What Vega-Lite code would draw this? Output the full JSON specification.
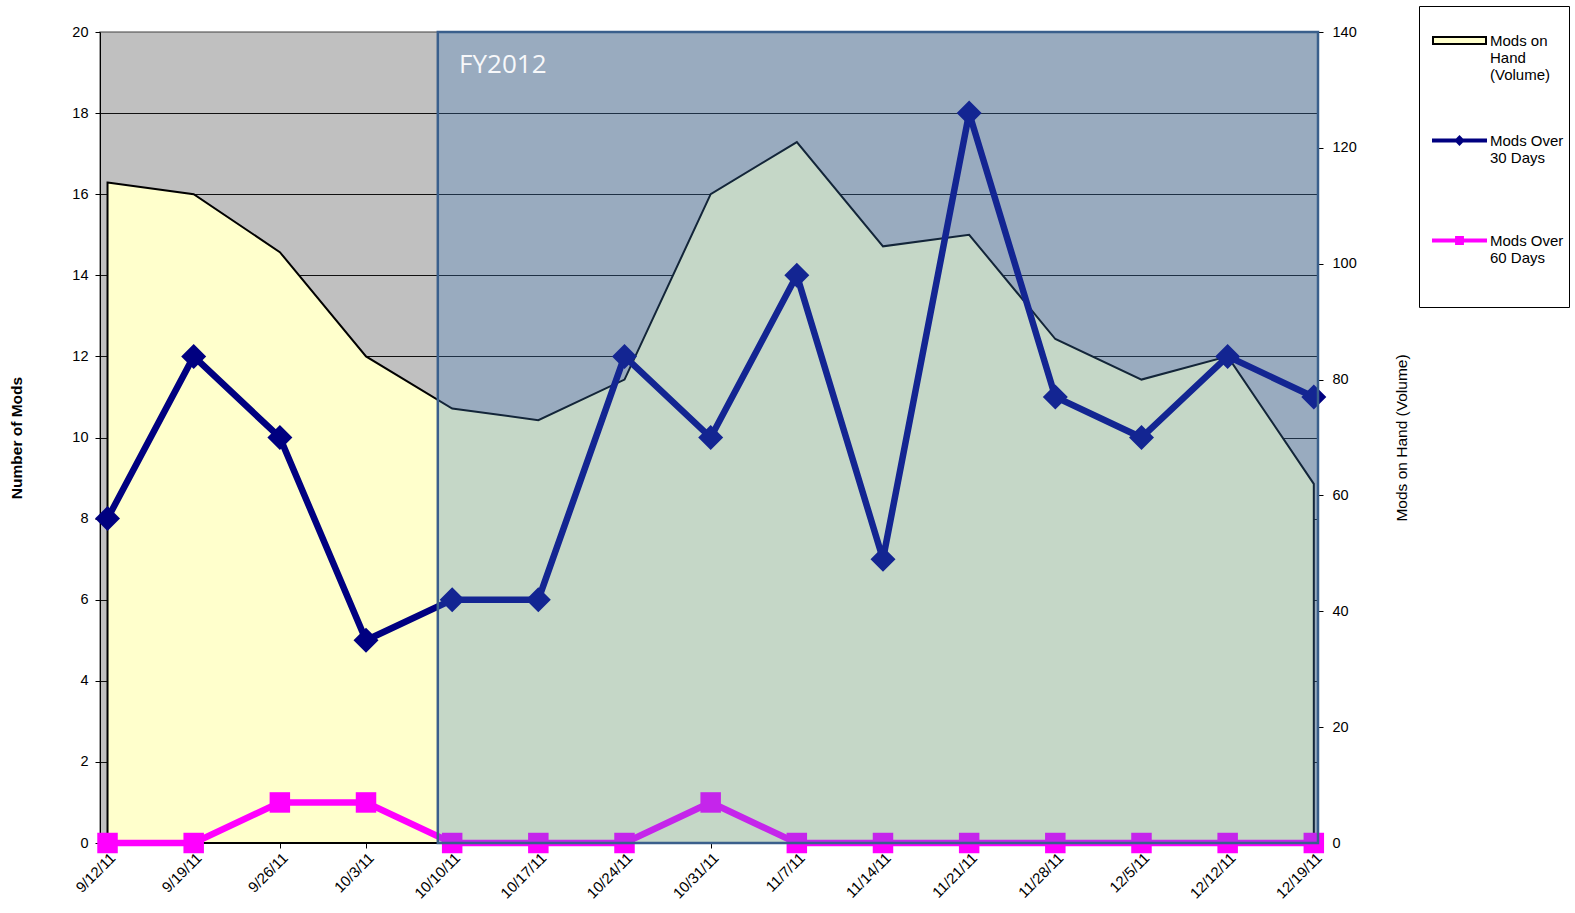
{
  "$schema": "https://vega.github.io/schema/vega-lite/v6.json",
  "width": 1218,
  "height": 811,
  "autosize": "none",
  "padding": {"left": 100, "top": 32, "right": 257, "bottom": 70},
  "background": "white",
  "config": {
    "view": {"fill": "#C0C0C0", "stroke": "#808080", "strokeWidth": 1.5},
    "font": "Liberation Sans",
    "axis": {"labelFont": "Liberation Sans", "labelFontSize": 14.5, "labelColor": "black", "domainColor": "black", "tickColor": "black", "titleFont": "Liberation Sans", "titleColor": "black", "titleFontSize": 15.5, "tickSize": 5}
  },
  "datasets": {
    "main": [
      {"date": "2011-09-12", "series": "Mods on Hand (Volume)", "value": 114},
      {"date": "2011-09-19", "series": "Mods on Hand (Volume)", "value": 112},
      {"date": "2011-09-26", "series": "Mods on Hand (Volume)", "value": 102},
      {"date": "2011-10-03", "series": "Mods on Hand (Volume)", "value": 84},
      {"date": "2011-10-10", "series": "Mods on Hand (Volume)", "value": 75},
      {"date": "2011-10-17", "series": "Mods on Hand (Volume)", "value": 73},
      {"date": "2011-10-24", "series": "Mods on Hand (Volume)", "value": 80},
      {"date": "2011-10-31", "series": "Mods on Hand (Volume)", "value": 112},
      {"date": "2011-11-07", "series": "Mods on Hand (Volume)", "value": 121},
      {"date": "2011-11-14", "series": "Mods on Hand (Volume)", "value": 103},
      {"date": "2011-11-21", "series": "Mods on Hand (Volume)", "value": 105},
      {"date": "2011-11-28", "series": "Mods on Hand (Volume)", "value": 87},
      {"date": "2011-12-05", "series": "Mods on Hand (Volume)", "value": 80},
      {"date": "2011-12-12", "series": "Mods on Hand (Volume)", "value": 84},
      {"date": "2011-12-19", "series": "Mods on Hand (Volume)", "value": 62},
      {"date": "2011-09-12", "series": "Mods Over 30 Days", "value": 8},
      {"date": "2011-09-19", "series": "Mods Over 30 Days", "value": 12},
      {"date": "2011-09-26", "series": "Mods Over 30 Days", "value": 10},
      {"date": "2011-10-03", "series": "Mods Over 30 Days", "value": 5},
      {"date": "2011-10-10", "series": "Mods Over 30 Days", "value": 6},
      {"date": "2011-10-17", "series": "Mods Over 30 Days", "value": 6},
      {"date": "2011-10-24", "series": "Mods Over 30 Days", "value": 12},
      {"date": "2011-10-31", "series": "Mods Over 30 Days", "value": 10},
      {"date": "2011-11-07", "series": "Mods Over 30 Days", "value": 14},
      {"date": "2011-11-14", "series": "Mods Over 30 Days", "value": 7},
      {"date": "2011-11-21", "series": "Mods Over 30 Days", "value": 18},
      {"date": "2011-11-28", "series": "Mods Over 30 Days", "value": 11},
      {"date": "2011-12-05", "series": "Mods Over 30 Days", "value": 10},
      {"date": "2011-12-12", "series": "Mods Over 30 Days", "value": 12},
      {"date": "2011-12-19", "series": "Mods Over 30 Days", "value": 11},
      {"date": "2011-09-12", "series": "Mods Over 60 Days", "value": 0},
      {"date": "2011-09-19", "series": "Mods Over 60 Days", "value": 0},
      {"date": "2011-09-26", "series": "Mods Over 60 Days", "value": 1},
      {"date": "2011-10-03", "series": "Mods Over 60 Days", "value": 1},
      {"date": "2011-10-10", "series": "Mods Over 60 Days", "value": 0},
      {"date": "2011-10-17", "series": "Mods Over 60 Days", "value": 0},
      {"date": "2011-10-24", "series": "Mods Over 60 Days", "value": 0},
      {"date": "2011-10-31", "series": "Mods Over 60 Days", "value": 1},
      {"date": "2011-11-07", "series": "Mods Over 60 Days", "value": 0},
      {"date": "2011-11-14", "series": "Mods Over 60 Days", "value": 0},
      {"date": "2011-11-21", "series": "Mods Over 60 Days", "value": 0},
      {"date": "2011-11-28", "series": "Mods Over 60 Days", "value": 0},
      {"date": "2011-12-05", "series": "Mods Over 60 Days", "value": 0},
      {"date": "2011-12-12", "series": "Mods Over 60 Days", "value": 0},
      {"date": "2011-12-19", "series": "Mods Over 60 Days", "value": 0}
    ],
    "band": [
      {"start": "2011-10-08T20:00:00Z", "end": "2011-12-19T08:10:00Z", "label": "FY2012", "labelDate": "2011-10-10T13:30:00Z", "labelValue": 19.18}
    ]
  },
  "resolve": {"scale": {"y": "independent"}},
  "layer": [
    {
      "data": {"name": "main"},
      "transform": [{"filter": "datum.series == 'Mods on Hand (Volume)'"}],
      "mark": {"type": "area", "stroke": "black", "strokeWidth": 2, "opacity": 1, "fillOpacity": 1},
      "encoding": {
        "x": {
          "field": "date", "type": "temporal",
          "scale": {"type": "utc", "domain": [{"year": 2011, "month": 9, "date": 11, "hours": 9, "minutes": 20, "utc": true}, {"year": 2011, "month": 12, "date": 19, "hours": 8, "minutes": 10, "utc": true}]},
          "axis": {
            "title": null, "grid": false, "labelAngle": -45, "labelFontSize": 15, "labelPadding": 2,
            "labelExpr": "utcFormat(datum.value, '%-m/%-d/%y')",
            "values": [
              {"year": 2011, "month": 9, "date": 12, "utc": true},
              {"year": 2011, "month": 9, "date": 19, "utc": true},
              {"year": 2011, "month": 9, "date": 26, "utc": true},
              {"year": 2011, "month": 10, "date": 3, "utc": true},
              {"year": 2011, "month": 10, "date": 10, "utc": true},
              {"year": 2011, "month": 10, "date": 17, "utc": true},
              {"year": 2011, "month": 10, "date": 24, "utc": true},
              {"year": 2011, "month": 10, "date": 31, "utc": true},
              {"year": 2011, "month": 11, "date": 7, "utc": true},
              {"year": 2011, "month": 11, "date": 14, "utc": true},
              {"year": 2011, "month": 11, "date": 21, "utc": true},
              {"year": 2011, "month": 11, "date": 28, "utc": true},
              {"year": 2011, "month": 12, "date": 5, "utc": true},
              {"year": 2011, "month": 12, "date": 12, "utc": true},
              {"year": 2011, "month": 12, "date": 19, "utc": true}
            ]
          }
        },
        "y": {
          "field": "value", "type": "quantitative", "stack": null,
          "scale": {"domain": [0, 140], "nice": false},
          "axis": {"orient": "right", "values": [0, 20, 40, 60, 80, 100, 120, 140], "title": "Mods on Hand (Volume)", "grid": false, "titleAngle": 270, "titleFontWeight": "normal", "titlePadding": 53, "labelPadding": 9}
        },
        "color": {
          "field": "series", "type": "nominal",
          "scale": {"domain": ["Mods on Hand (Volume)", "Mods Over 30 Days", "Mods Over 60 Days"], "range": ["#FFFFCC", "#000080", "#FF00FF"]},
          "legend": {
            "orient": "none", "legendX": 1319, "legendY": -26,
            "title": null,
            "fillColor": "white", "strokeColor": "black",
            "padding": 5,
            "clipHeight": 91,
            "rowPadding": 9,
            "symbolSize": 2809,
            "symbolOffset": 8,
            "symbolStrokeWidth": 2,
            "symbolOpacity": 1,
            "labelOffset": 3,
            "labelBaseline": "top",
            "labelFont": "Liberation Sans", "labelFontSize": 15, "labelColor": "black", "labelLimit": 200,
            "labelExpr": "datum.label == 'Mods on Hand (Volume)' ? ['Mods on', 'Hand', '(Volume)'] : ['Mods Over', slice(datum.label, 10)]",
            "encoding": {
              "symbols": {
                "shape": {"value": {"expr": "datum.value == 'Mods on Hand (Volume)' ? 'M-1,-0.13L1,-0.13L1,0.13L-1,0.13Z' : datum.value == 'Mods Over 30 Days' ? 'M-1,-0.04L1,-0.04L1,0.04L-1,0.04Z M-0.15,0L0,-0.15L0.15,0L0,0.15Z' : 'M-1,-0.04L1,-0.04L1,0.04L-1,0.04Z M-0.13,-0.13L0.13,-0.13L0.13,0.13L-0.13,0.13Z'"}},
                "stroke": {"value": {"expr": "datum.value == 'Mods on Hand (Volume)' ? 'black' : datum.value == 'Mods Over 30 Days' ? '#000080' : '#FF00FF'"}},
                "y": {"value": 29.5}
              },
              "labels": {"y": {"value": 22.5}, "lineHeight": {"value": 17}}
            }
          }
        }
      }
    },
    {
      "data": {"name": "main"},
      "encoding": {
        "x": {"field": "date", "type": "temporal", "scale": {"type": "utc", "domain": [{"year": 2011, "month": 9, "date": 11, "hours": 9, "minutes": 20, "utc": true}, {"year": 2011, "month": 12, "date": 19, "hours": 8, "minutes": 10, "utc": true}]}},
        "y": {
          "field": "value", "type": "quantitative",
          "scale": {"domain": [0, 20], "nice": false},
          "axis": {"orient": "left", "values": [0, 2, 4, 6, 8, 10, 12, 14, 16, 18, 20], "title": "Number of Mods", "grid": true, "gridColor": {"condition": {"test": "datum.value === 20", "value": "#808080"}, "value": "#111111"}, "gridWidth": 1, "titleFontWeight": "bold", "titlePadding": 47, "labelPadding": 7}
        }
      },
      "layer": [
        {"transform": [{"filter": "datum.series == 'Mods Over 30 Days'"}], "mark": {"type": "line", "strokeWidth": 6.5, "color": "#000080"}},
        {"transform": [{"filter": "datum.series == 'Mods Over 30 Days'"}], "mark": {"type": "point", "shape": "diamond", "size": 625, "filled": true, "opacity": 1, "color": "#000080"}},
        {"transform": [{"filter": "datum.series == 'Mods Over 60 Days'"}], "mark": {"type": "line", "strokeWidth": 6.5, "color": "#FF00FF"}},
        {"transform": [{"filter": "datum.series == 'Mods Over 60 Days'"}], "mark": {"type": "point", "shape": "square", "size": 420, "filled": true, "opacity": 1, "color": "#FF00FF"}}
      ]
    },
    {
      "data": {"name": "band"},
      "mark": {"type": "rect", "fill": "#3F7BBD", "fillOpacity": 0.3, "stroke": "#3A5F8C", "strokeWidth": 2.5},
      "encoding": {
        "x": {"field": "start", "type": "temporal", "scale": {"type": "utc", "domain": [{"year": 2011, "month": 9, "date": 11, "hours": 9, "minutes": 20, "utc": true}, {"year": 2011, "month": 12, "date": 19, "hours": 8, "minutes": 10, "utc": true}]}},
        "x2": {"field": "end"}
      }
    },
    {
      "data": {"name": "band"},
      "mark": {"type": "text", "align": "left", "baseline": "middle", "font": "Open Sans", "fontSize": 26, "color": "white", "opacity": 0.92},
      "encoding": {
        "x": {"field": "labelDate", "type": "temporal", "scale": {"type": "utc", "domain": [{"year": 2011, "month": 9, "date": 11, "hours": 9, "minutes": 20, "utc": true}, {"year": 2011, "month": 12, "date": 19, "hours": 8, "minutes": 10, "utc": true}]}},
        "y": {"field": "labelValue", "type": "quantitative", "scale": {"domain": [0, 20], "nice": false}, "axis": null},
        "text": {"field": "label"}
      }
    }
  ]
}
